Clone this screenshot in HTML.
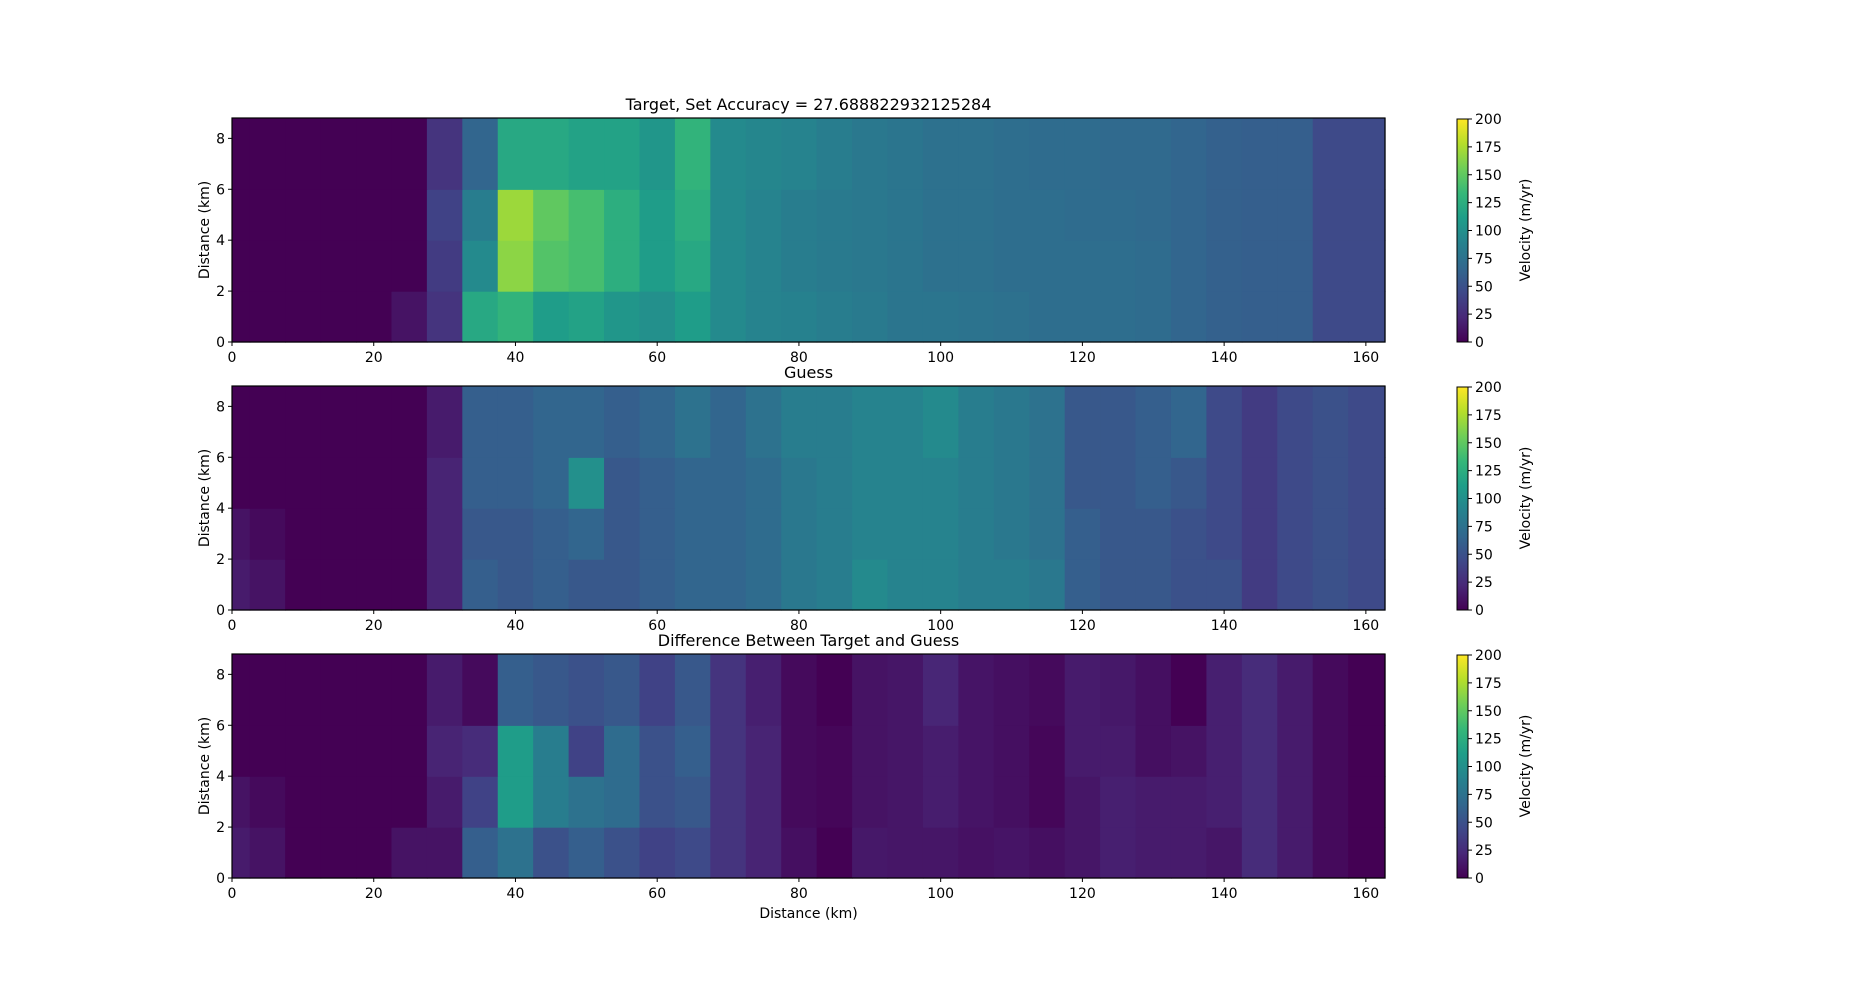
<!DOCTYPE html>
<html><head><meta charset="utf-8"><style>
html,body{margin:0;padding:0;background:#fff;}
svg{display:block;font-family:"DejaVu Sans","Liberation Sans",sans-serif;}
</style></head><body>
<svg id="fig" width="1859" height="986" viewBox="0 0 1859 986" xmlns="http://www.w3.org/2000/svg">
<defs>
<linearGradient id="vir" x1="0" y1="1" x2="0" y2="0">
<stop offset="0" stop-color="#440154"/><stop offset="0.111" stop-color="#482878"/><stop offset="0.222" stop-color="#3e4989"/><stop offset="0.333" stop-color="#31688e"/><stop offset="0.444" stop-color="#26828e"/><stop offset="0.556" stop-color="#1f9e89"/><stop offset="0.667" stop-color="#35b779"/><stop offset="0.778" stop-color="#6ece58"/><stop offset="0.889" stop-color="#b5de2b"/><stop offset="1" stop-color="#fde725"/>
</linearGradient>
</defs>
</svg>
<script>
const xCenters=[0,5,10,15,20,25,30,35,40,45,50,55,60,65,70,75,80,85,90,95,100,105,110,115,120,125,130,135,140,145,150,155,160];
const yBands=[0,2,4,6,8.8];
const targetRow0=[0,0,0,0,0,10,30,120,130,110,115,105,100,110,95,90,88,85,82,78,78,76,74,72,72,72,70,65,62,60,60,45,45];
const targetRow1=[0,0,0,0,0,0,35,95,165,145,140,125,110,120,95,90,85,82,80,78,74,74,72,72,72,72,70,65,62,60,60,45,45];
const targetRow2=[0,0,0,0,0,0,40,85,170,150,140,125,110,125,95,90,85,82,80,78,74,74,72,72,70,70,68,65,62,60,60,45,45];
const targetRow3=[0,0,0,0,0,0,30,65,120,120,115,115,105,130,95,92,90,85,80,78,74,74,72,70,70,68,68,65,62,60,60,45,45];
const guessRow0=[15,10,0,0,0,0,20,60,55,60,55,55,60,65,65,70,80,85,95,90,90,85,85,80,60,55,55,50,50,35,45,50,45];
const guessRow1=[10,5,0,0,0,0,20,55,55,60,65,55,60,65,65,70,80,85,90,90,90,85,80,75,60,55,55,50,45,35,45,50,45];
const guessRow2=[0,0,0,0,0,0,20,60,60,65,100,55,60,65,65,70,80,85,90,90,90,85,80,75,55,55,60,55,45,35,45,50,45];
const guessRow3=[0,0,0,0,0,0,15,60,60,65,65,60,65,75,65,75,85,85,90,90,95,85,80,75,55,55,60,65,45,35,45,50,45];
const xTicks=[0,20,40,60,80,100,120,140,160];
const yTicks=[0,2,4,6,8];
const cbTicks=[0,25,50,75,100,125,150,175,200];

const NS="http://www.w3.org/2000/svg";
const svg=document.getElementById('fig');
const X0=232,X1=1385,XMAX=162.7,YMAX=8.8,CB0=1457,CB1=1468;
const vstops=["#440154","#482878","#3e4989","#31688e","#26828e","#1f9e89","#35b779","#6ece58","#b5de2b","#fde725"];
function hex(h){return [1,3,5].map(i=>parseInt(h.substr(i,2),16));}
function viridis(v){let t=Math.max(0,Math.min(1,v/200))*9;let i=Math.min(8,Math.floor(t));let f=t-i;let a=hex(vstops[i]),b=hex(vstops[i+1]);return `rgb(${a.map((c,k)=>Math.round(c+(b[k]-c)*f)).join(',')})`;}
function el(tag,attrs,parent){const e=document.createElementNS(NS,tag);for(const k in attrs)e.setAttribute(k,attrs[k]);(parent||svg).appendChild(e);return e;}
function xs(v){return X0+(v/XMAX)*(X1-X0);}

const target=[targetRow0,targetRow1,targetRow2,targetRow3];
const guess=[guessRow0,guessRow1,guessRow2,guessRow3];
const diff=target.map((r,i)=>r.map((v,j)=>Math.abs(v-guess[i][j])));

const panels=[
 {top:118,title:"Target, Set Accuracy = 27.688822932125284",data:target,name:"target-panel"},
 {top:386,title:"Guess",data:guess,name:"guess-panel"},
 {top:654,title:"Difference Between Target and Guess",data:diff,name:"difference-panel"}];
const H=224;
panels.forEach((p,pi)=>{
 const g=el('g',{});
 
 
 const ys=v=>p.top+H-(v/YMAX)*H;
 p.data.forEach((row,ri)=>{
  row.forEach((v,ci)=>{
   const xa=ci===0?0:(xCenters[ci-1]+xCenters[ci])/2;
   const xb=ci===xCenters.length-1?XMAX:(xCenters[ci]+xCenters[ci+1])/2;
   const r=el('rect',{x:xs(xa),y:ys(yBands[ri+1]),width:xs(xb)-xs(xa)+0.6,height:ys(yBands[ri])-ys(yBands[ri+1])+0.6,fill:viridis(v)},g);
   
   
  });
 });
 const fr=el('rect',{x:X0,y:p.top,width:X1-X0,height:H,fill:'none',stroke:'#000','stroke-width':1.2},g);
 
 
 const t=el('text',{x:(X0+X1)/2,y:p.top-8,'text-anchor':'middle','font-size':16},g);
 t.textContent=p.title;
 
 
 xTicks.forEach(v=>{
  el('line',{x1:xs(v),x2:xs(v),y1:p.top+H,y2:p.top+H+4,stroke:'#000'},g);
  const tx=el('text',{x:xs(v),y:p.top+H+20,'text-anchor':'middle','font-size':14},g);
  tx.textContent=v;
  
  
 });
 yTicks.forEach(v=>{
  el('line',{x1:X0-4,x2:X0,y1:ys(v),y2:ys(v),stroke:'#000'},g);
  const ty=el('text',{x:X0-7,y:ys(v)+5,'text-anchor':'end','font-size':14},g);
  ty.textContent=v;
  
  
 });
 const yl=el('text',{x:0,y:0,'text-anchor':'middle','font-size':14,transform:`translate(209,${p.top+H/2}) rotate(-90)`},g);
 yl.textContent='Distance (km)';
 
 
 const cb=el('g',{});
 
 
 el('rect',{x:CB0,y:p.top+1,width:CB1-CB0,height:H-1,fill:'url(#vir)',stroke:'#000','stroke-width':1},cb);
 cbTicks.forEach(v=>{
  const y=p.top+H-(v/200)*(H-1);
  el('line',{x1:CB1,x2:CB1+4,y1:y,y2:y,stroke:'#000'},cb);
  const ct=el('text',{x:CB1+7,y:y+5,'font-size':14},cb);
  ct.textContent=v;
  
  
 });
 const cl=el('text',{x:0,y:0,'text-anchor':'middle','font-size':14,transform:`translate(1530,${p.top+H/2}) rotate(-90)`},cb);
 cl.textContent='Velocity (m/yr)';
 
 
});
const xl=el('text',{x:(X0+X1)/2,y:918,'text-anchor':'middle','font-size':14});
xl.textContent='Distance (km)';


</script>
</body></html>
